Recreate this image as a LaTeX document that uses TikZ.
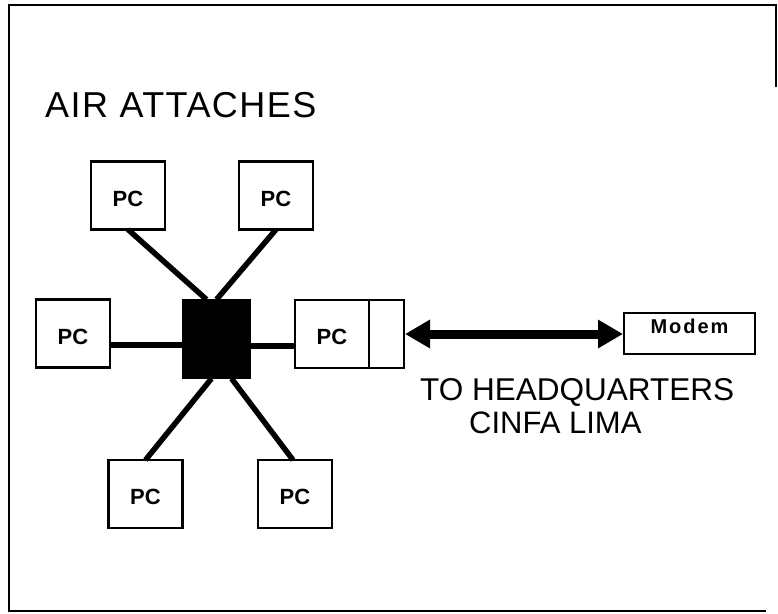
\documentclass[tikz,border=0pt]{standalone}
\usepackage{fontspec}
\setmainfont{Liberation Sans}
\newfontfamily\spacedfont[LetterSpace=10]{Liberation Sans}
\newfontfamily\titlefont[LetterSpace=4]{Liberation Sans}
\usetikzlibrary{arrows.meta,calc}
\begin{document}
\begin{tikzpicture}[x=1pt,y=-1pt,
  frameline/.style={line width=2.5pt},
  pcbox/.style={draw,line width=2.5pt,inner sep=0pt,outer sep=0pt,minimum width=74pt,minimum height=68pt,
    font=\fontsize{22}{22}\selectfont\bfseries,text height=21pt,text depth=0pt},
  hubbox/.style={draw,fill=black,line width=1pt,inner sep=0pt,outer sep=0pt,minimum width=68pt,minimum height=79pt},
  sidebox/.style={draw,line width=2pt,inner sep=0pt,outer sep=0pt,minimum width=35pt,minimum height=68pt},
  modembox/.style={draw,line width=2.5pt,inner sep=0pt,outer sep=0pt,minimum width=131pt,minimum height=41pt,
    font=\spacedfont\fontsize{20}{20}\selectfont\bfseries,text height=14pt,text depth=14pt},
  link/.style={line width=5.5pt},
  biglink/.style={line width=9pt,{Triangle[length=25pt,width=27pt]}-{Triangle[length=25pt,width=27pt]}},
  caption/.style={anchor=base west,inner sep=0pt}]
\useasboundingbox (0,0) rectangle (778,613);
% frame
\draw[frameline] (776,87) -- (776,5) -- (9,5) -- (9,611) -- (766,611);
% title
\node[caption,font=\titlefont\fontsize{36}{36}\selectfont] (title) at (45,117) {AIR ATTACHES};
% boxes
\node[pcbox] (tl) at (128,195.5) {PC};
\node[pcbox] (tr) at (276,195.5) {PC};
\node[pcbox] (l) at (73,333.5) {PC};
\node[hubbox] (hub) at (216.5,339) {};
\node[pcbox] (r) at (332,334) {PC};
\node[sidebox,anchor=west] (r2) at (r.east) {};
\node[pcbox] (bl) at (145.5,494) {PC};
\node[pcbox] (br) at (295,494) {PC};
\node[modembox] (modem) at (689.5,333.5) {Modem};
% attachment points
\coordinate (lout) at ([yshift=-11.5pt]l.east);
\coordinate (rin) at ([yshift=-12pt]r.west);
% links
\draw[link] (tl.south) -- ([xshift=-10pt]hub.north);
\draw[link] (tr.south) -- (hub.north);
\draw[link] (lout) -- (hub.west |- lout);
\draw[link] (hub.east |- rin) -- (rin);
\draw[link] ([xshift=-5pt]hub.south) -- (bl.north);
\draw[link] ([xshift=15pt]hub.south) -- ([xshift=-2pt]br.north);
\draw[biglink] ([xshift=1pt]r2.east) -- ([xshift=-1pt]modem.west |- r2.east);
% captions
\node[caption,font=\fontsize{31.5}{31.5}\selectfont] (hq) at (420,400) {TO HEADQUARTERS};
\node[caption,font=\fontsize{31}{31}\selectfont] (lima) at (469,433) {CINFA LIMA};
\end{tikzpicture}
\end{document}
